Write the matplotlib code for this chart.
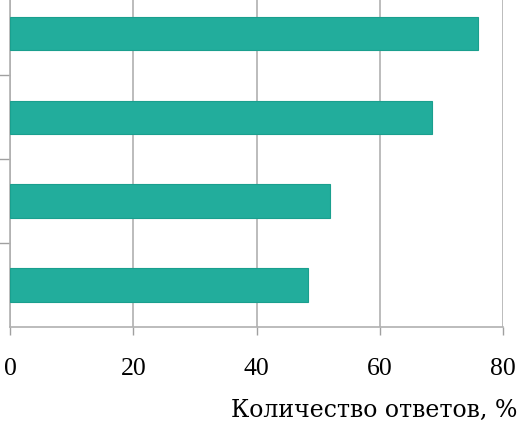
import matplotlib
matplotlib.use("Agg")
import matplotlib.pyplot as plt

categories = ["A", "B", "C", "D"]  # top to bottom (no labels shown)
values = [76, 68.5, 52, 48.3]
xticks = [0, 20, 40, 60, 80]
xlabel = "Количество ответов, %"

plt.rcParams['font.family'] = ['Liberation Serif', 'DejaVu Serif']

fig = plt.figure(figsize=(5.19, 4.21), dpi=100)
ax = fig.add_axes([10/519, (421-327)/421, 493/519, 327/421])

n = len(values)
ypos = [n - 1 - i for i in range(n)]
ax.barh(ypos, values, height=0.4, color="#22ad9c", edgecolor="#1a9f8e", linewidth=0.8, zorder=3)

ax.set_xlim(0, 80)
ax.set_ylim(-0.5, 3.40)
ax.set_xticks(xticks)
ax.set_xticklabels([str(t) for t in xticks], fontsize=18.5)
ax.set_yticks([0.5, 1.5, 2.5])
ax.set_yticklabels([])
ax.tick_params(axis='y', length=8, color="#a0a0a0", width=1)
ax.tick_params(axis='x', length=6, color="#a0a0a0", width=1, pad=16)
ax.grid(axis='x', color="#b0b0b0", linewidth=1.2, zorder=0)
for s in ['top', 'right']:
    ax.spines[s].set_visible(False)
for s in ['left', 'bottom']:
    ax.spines[s].set_color("#b0b0b0")
    ax.spines[s].set_linewidth(1.2)

fig.text(231/519, (421-417)/421, xlabel, fontsize=17, ha='left', va='baseline',
         family=['DejaVu Serif'])

fig.savefig("out.png", dpi=100)
